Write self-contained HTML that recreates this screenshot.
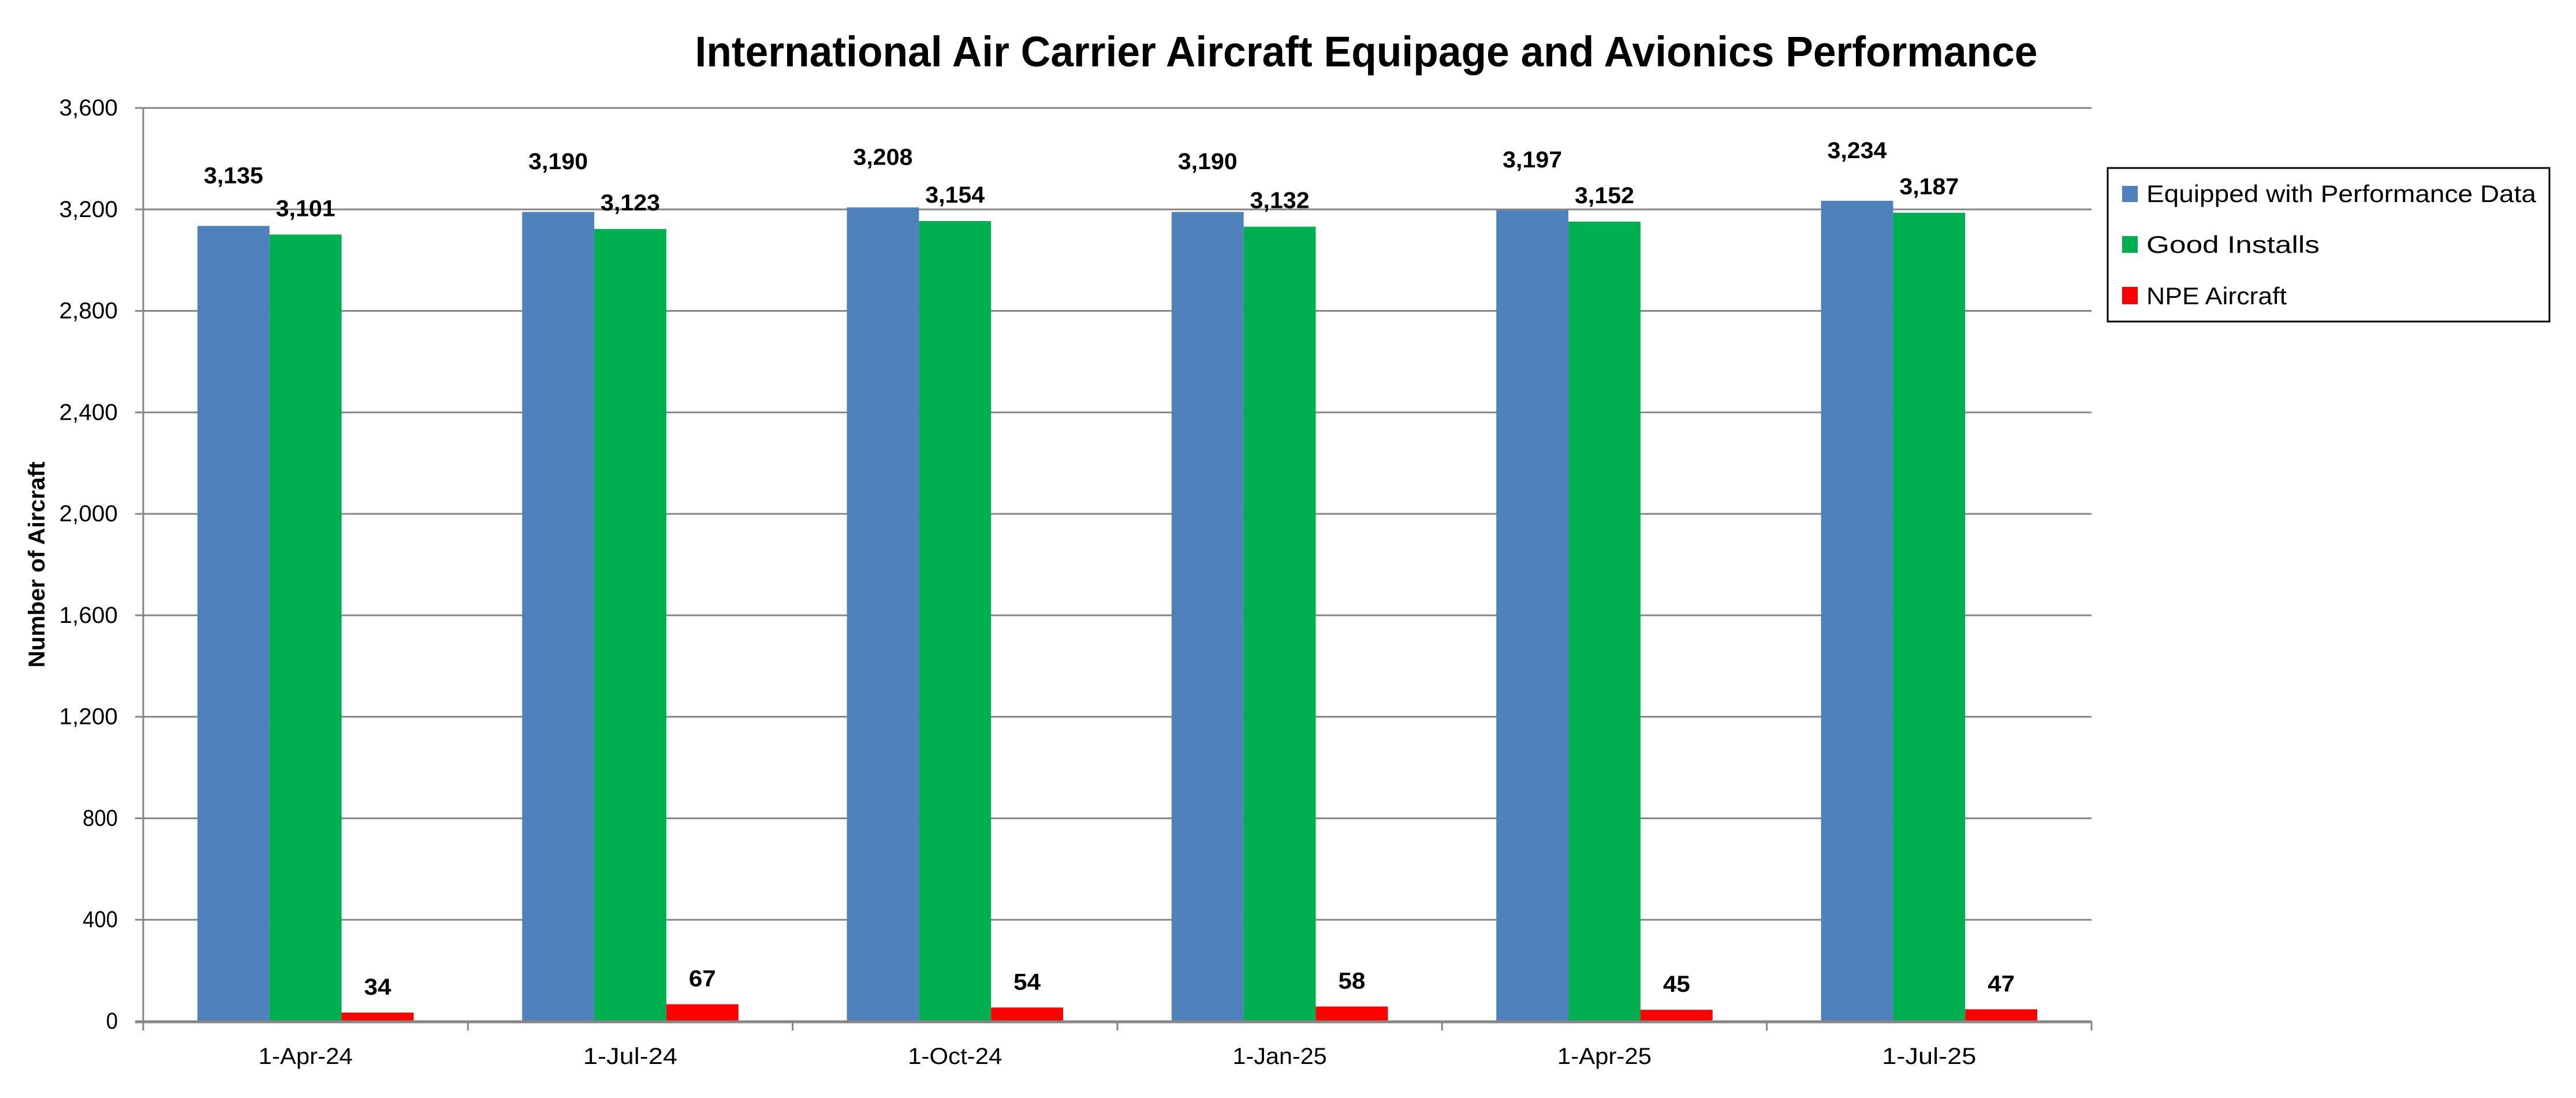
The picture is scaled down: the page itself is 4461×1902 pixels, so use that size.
<!DOCTYPE html>
<html><head><meta charset="utf-8"><style>
html,body{margin:0;padding:0;background:#fff;}
svg text{font-family:"Liberation Sans",sans-serif;}
</style></head><body>
<svg id="chart" width="4461" height="1897" viewBox="0 0 4461 1897" xmlns="http://www.w3.org/2000/svg">
<rect width="4461" height="1897" fill="#fff"/>
<text x="2366" y="115" text-anchor="middle" font-size="74" font-weight="bold" textLength="2325" lengthAdjust="spacingAndGlyphs">International Air Carrier Aircraft Equipage and Avionics Performance</text>
<text transform="translate(77,978) rotate(-90)" text-anchor="middle" font-size="40" font-weight="bold" textLength="357" lengthAdjust="spacingAndGlyphs">Number of Aircraft</text>
<g id="grid"></g>
<g id="bars"></g>
<g id="axes"></g>
<g id="labels"></g>
<g>
<rect x="3650" y="291" width="765" height="266" fill="#fff" stroke="#000" stroke-width="3"/>
<g>
<rect x="3675" y="322" width="27" height="28" fill="#4F81BD"/>
<text x="3717" y="350" font-size="42" textLength="675" lengthAdjust="spacingAndGlyphs">Equipped with Performance Data</text>
</g>
<g>
<rect x="3675" y="409" width="27" height="29" fill="#00B050"/>
<text x="3717" y="438" font-size="42" textLength="300" lengthAdjust="spacingAndGlyphs">Good Installs</text>
</g>
<g>
<rect x="3675" y="497" width="27" height="30" fill="#FF0000"/>
<text x="3717" y="527" font-size="42" textLength="243" lengthAdjust="spacingAndGlyphs">NPE Aircraft</text>
</g>
</g>
</svg>
<script>
const categories = ["1-Apr-24","1-Jul-24","1-Oct-24","1-Jan-25","1-Apr-25","1-Jul-25"];
const equipped = [3135,3190,3208,3190,3197,3234];
const goodInstalls = [3101,3123,3154,3132,3152,3187];
const npe = [34,67,54,58,45,47];
const yTicks = [0,400,800,1200,1600,2000,2400,2800,3200,3600];

const NS = "http://www.w3.org/2000/svg";
const L = 248, R = 3622, T = 187, B = 1769, YMAX = 3600;
const cw = (R - L) / categories.length;
const bw = cw * 0.222;
function y(v){ return B - (v / YMAX) * (B - T); }
function xCat(i){ return L + i * cw; }
function mk(tag, attrs, parent){
  const e = document.createElementNS(NS, tag);
  for (const k in attrs) e.setAttribute(k, attrs[k]);
  parent.appendChild(e);
  return e;
}
function fmt(v){ return v.toLocaleString("en-US"); }
const grid = document.getElementById("grid");
const bars = document.getElementById("bars");
const axes = document.getElementById("axes");
const labels = document.getElementById("labels");

yTicks.forEach(t => {
  if (t > 0) {
    const g = mk("line", {x1: L, x2: R, y1: y(t), y2: y(t), stroke: "#868686", "stroke-width": 3}, grid);
    
    
  }
  const tk = mk("line", {x1: L - 14, x2: L, y1: y(t), y2: y(t), stroke: "#868686", "stroke-width": 3}, axes);
  
  
  const s = fmt(t);
  const tx = mk("text", {x: 204, y: y(t) + 13, "text-anchor": "end", "font-size": 40, textLength: s.length * 20.3, lengthAdjust: "spacingAndGlyphs"}, axes);
  tx.textContent = s;
  
  
});

const series = [
  {vals: equipped, color: "#4F81BD", off: 74, name: "equipped"},
  {vals: goodInstalls, color: "#00B050", off: 32, name: "good-installs"},
  {vals: npe, color: "#FF0000", off: 31, name: "npe"}
];
categories.forEach((c, i) => {
  const gx = xCat(i) + (cw - 3 * bw) / 2;
  series.forEach((s, j) => {
    const v = s.vals[i];
    const bx = gx + j * bw;
    const r = mk("rect", {x: bx, y: y(v), width: bw, height: B - y(v), fill: s.color}, bars);
    
    
    const str = fmt(v);
    const lt = mk("text", {x: bx + bw / 2, y: y(v) - s.off, "text-anchor": "middle", "font-size": 40, "font-weight": "bold", textLength: str.length > 2 ? 103 : 47, lengthAdjust: "spacingAndGlyphs"}, labels);
    lt.textContent = str;
    
    
  });
  const xl = mk("text", {x: xCat(i) + cw / 2, y: 1843, "text-anchor": "middle", "font-size": 40, textLength: c.length * 20.4, lengthAdjust: "spacingAndGlyphs"}, axes);
  xl.textContent = c;
  
  
});
for (let i = 0; i <= categories.length; i++) {
  const t = mk("line", {x1: xCat(i), x2: xCat(i), y1: B, y2: B + 16, stroke: "#868686", "stroke-width": 3}, axes);
  
  
}
const ya = mk("line", {x1: L, x2: L, y1: T, y2: B, stroke: "#868686", "stroke-width": 3}, axes);


const xa = mk("line", {x1: L - 14, x2: R, y1: B + 1, y2: B + 1, stroke: "#868686", "stroke-width": 5}, axes);


</script>
</body></html>
